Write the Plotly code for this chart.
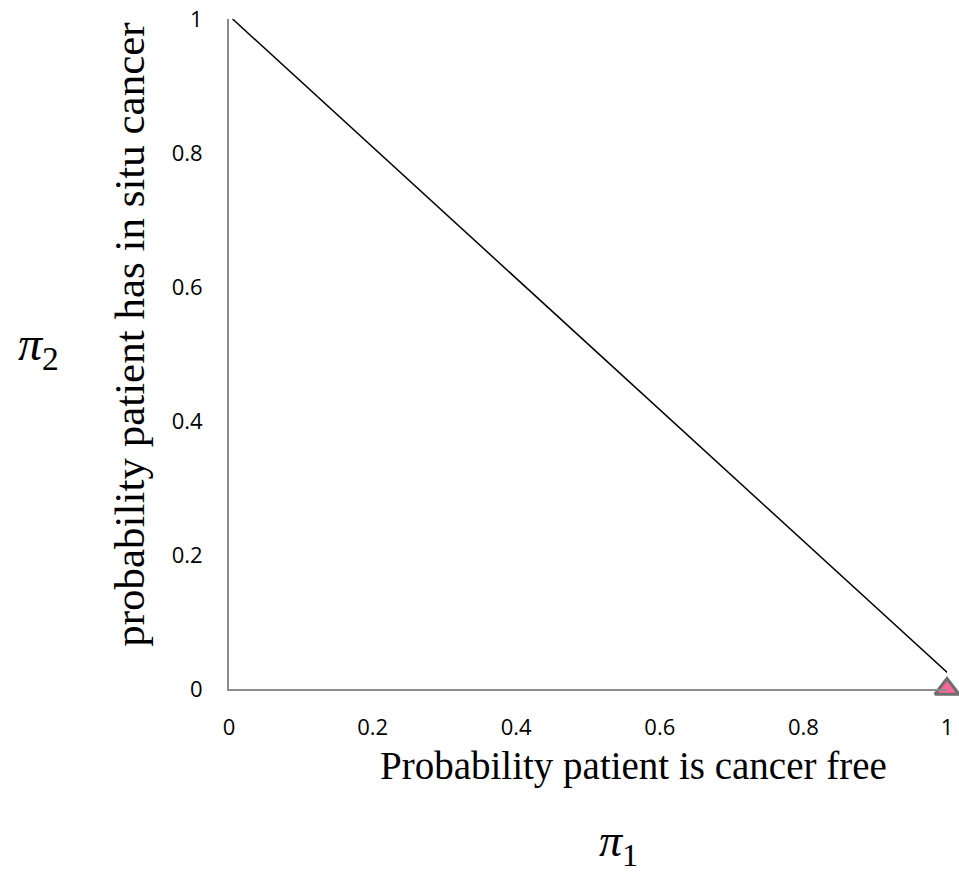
import plotly.graph_objects as go

line_x = [0.005, 1.007]
line_y = [1.0, 0.018]
pt_x = [1.0]
pt_y = [0.0]
tick_vals = [0, 0.2, 0.4, 0.6, 0.8, 1]
tick_text = ["0", "0.2", "0.4", "0.6", "0.8", "1"]

fig = go.Figure()
fig.add_trace(go.Scatter(x=line_x, y=line_y, mode="lines",
                         line=dict(color="black", width=1.5), cliponaxis=False,
                         showlegend=False))
fig.add_trace(go.Scatter(x=pt_x, y=pt_y, mode="markers",
                         marker=dict(symbol="triangle-up", size=21, color="#ff6699",
                                     line=dict(color="#6e6e6e", width=3)),
                         cliponaxis=False, showlegend=False))

tick_font = dict(family="Open Sans, Liberation Sans, sans-serif", size=22, color="black")
fig.update_layout(
    width=959, height=879,
    margin=dict(l=229, r=12, t=19, b=190),
    paper_bgcolor="white", plot_bgcolor="white",
    xaxis=dict(range=[0, 1], tickvals=tick_vals, ticktext=tick_text, showgrid=False,
               zeroline=False, showline=True, linecolor="#8c8c8c", linewidth=2,
               ticks="", tickfont=tick_font, ticklabelstandoff=18,
               ticklabeloverflow="allow", automargin=False),
    yaxis=dict(range=[0, 1], tickvals=tick_vals, ticktext=tick_text, showgrid=False,
               zeroline=False, showline=True, linecolor="#8c8c8c", linewidth=2,
               ticks="", tickfont=tick_font, ticklabelstandoff=20,
               ticklabeloverflow="allow", automargin=False),
)

serif = "Liberation Serif, Times New Roman, serif"
fig.add_annotation(text="Probability patient is cancer free", xref="paper", yref="paper",
                   x=0.564, y=-0.115, xanchor="center", yanchor="middle", showarrow=False,
                   font=dict(family=serif, size=39, color="black"))
fig.add_annotation(text="probability patient has in situ cancer", xref="paper", yref="paper",
                   x=-0.138, y=0.530, xanchor="center", yanchor="middle", showarrow=False,
                   textangle=-90, font=dict(family=serif, size=43, color="black"))
fig.add_annotation(text="<i>π</i><sub>1</sub>", xref="paper", yref="paper",
                   x=0.542, y=-0.232, xanchor="center", yanchor="middle", showarrow=False,
                   font=dict(family=serif, size=46, color="black"))
fig.add_annotation(text="<i>π</i><sub>2</sub>", xref="paper", yref="paper",
                   x=-0.266, y=0.51, xanchor="center", yanchor="middle", showarrow=False,
                   font=dict(family=serif, size=48, color="black"))

fig.write_html("out.html", config={"displayModeBar": False},
               post_script="document.body.style.margin='0px';")
